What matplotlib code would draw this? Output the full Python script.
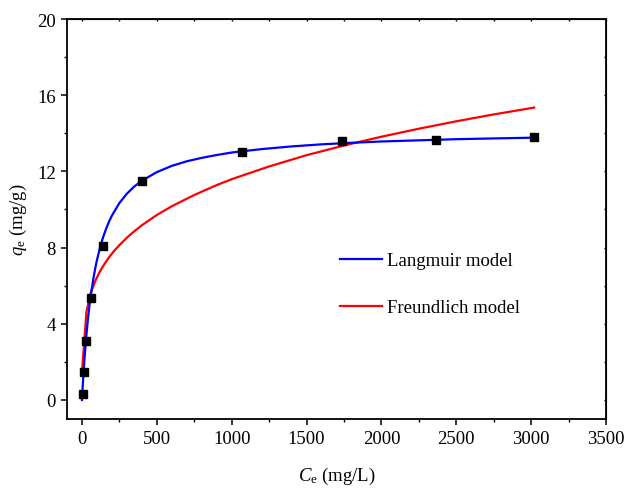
import matplotlib
matplotlib.use('Agg')
import matplotlib.pyplot as plt
from matplotlib.ticker import MultipleLocator

plt.rcParams['font.family'] = 'Liberation Serif'
plt.rcParams['mathtext.fontset'] = 'custom'
plt.rcParams['mathtext.rm'] = 'Liberation Serif'
plt.rcParams['mathtext.it'] = 'Liberation Serif:italic'

# dados experimentais
ce = [5, 15, 29, 60, 140, 400, 1068, 1740, 2367, 3019]
qe = [0.32, 1.46, 3.1, 5.37, 8.09, 11.49, 13.0, 13.6, 13.67, 13.79]

# curvas dos modelos
c_lang = [0, 5, 10, 15, 20, 30, 40, 50, 60, 75, 90, 100, 120, 140, 160, 180,
          200, 250, 300, 350, 400, 500, 600, 700, 800, 900, 1000, 1200, 1400,
          1600, 1800, 2000, 2250, 2500, 2750, 3020]
q_lang = [0, 0.72, 1.37, 1.96, 2.50, 3.45, 4.26, 4.95, 5.55, 6.32, 6.97, 7.34,
          7.98, 8.52, 8.96, 9.35, 9.68, 10.34, 10.83, 11.21, 11.51, 11.96,
          12.29, 12.53, 12.71, 12.86, 12.99, 13.17, 13.31, 13.42, 13.50, 13.57,
          13.63, 13.69, 13.73, 13.77]

c_freu = [0.3, 30, 60, 90, 120, 150, 180, 210, 250, 300, 350, 400, 500, 600,
          750, 900, 1000, 1250, 1500, 1750, 2000, 2250, 2500, 2750, 3020]
q_freu = [1.47, 4.65, 5.65, 6.27, 6.75, 7.14, 7.48, 7.78, 8.13, 8.52, 8.86,
          9.17, 9.71, 10.17, 10.76, 11.28, 11.59, 12.26, 12.85, 13.36, 13.82,
          14.24, 14.63, 14.99, 15.35]

fig = plt.figure(figsize=(6.27, 4.89), dpi=100)
ax = fig.add_axes([67 / 627, 69 / 489, 539 / 627, 400 / 489])

ax.plot(c_lang, q_lang, color='#0000ff', lw=1.6, label='Langmuir model', zorder=3)
ax.plot(c_freu, q_freu, color='#ff0000', lw=1.6, label='Freundlich model', zorder=2)
ax.plot(ce, qe, 's', color='black', ms=6, zorder=4)

ax.set_xlim(-100, 3500)
ax.set_ylim(-1, 20)
ax.xaxis.set_major_locator(MultipleLocator(500))
ax.xaxis.set_minor_locator(MultipleLocator(250))
ax.yaxis.set_major_locator(MultipleLocator(4))
ax.yaxis.set_minor_locator(MultipleLocator(2))
ax.tick_params(which='major', direction='out', length=4.5, width=1.1, labelsize=13.5)
ax.tick_params(which='minor', direction='out', length=2.5, width=1.0)
for s in ax.spines.values():
    s.set_linewidth(1.3)

# eixos de cima e da direita com ticks pra dentro
top = ax.secondary_xaxis('top')
top.xaxis.set_major_locator(MultipleLocator(500))
top.xaxis.set_minor_locator(MultipleLocator(250))
top.tick_params(which='both', direction='in', length=1.5, width=1.0, labeltop=False)
right = ax.secondary_yaxis('right')
right.yaxis.set_major_locator(MultipleLocator(4))
right.yaxis.set_minor_locator(MultipleLocator(2))
right.tick_params(which='both', direction='in', length=1.5, width=1.0, labelright=False)

ax.set_xlabel(r'$\mathit{C}_\mathrm{e}$ (mg/L)', fontsize=13.5, labelpad=13)
ax.set_ylabel(r'$\mathit{q}_\mathrm{e}$ (mg/g)', fontsize=13.5, labelpad=6)

ax.legend(loc='upper left', bbox_to_anchor=(0.506, 0.4175), frameon=False,
          fontsize=13.5, handlelength=2.24, handletextpad=0.27, labelspacing=1.6,
          borderpad=0, borderaxespad=0)

fig.savefig('out.png', dpi=100)
